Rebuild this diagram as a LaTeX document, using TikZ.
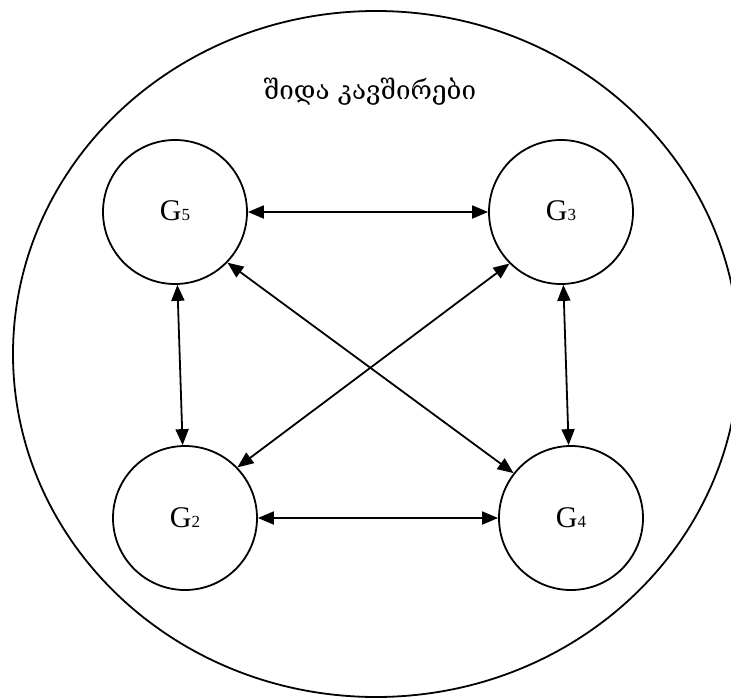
\documentclass[tikz,border=0pt]{standalone}
\usepackage{fontspec}
\setmainfont{Liberation Serif}
\newfontfamily\geofont[Script=Georgian]{DejaVu Serif}
\usetikzlibrary{arrows.meta}
\newcommand\glab[1]{G{\fontsize{17}{17}\selectfont #1}}
\tikzset{
  gnode/.style={circle, draw, line width=1.8pt, minimum size=144pt, inner sep=0pt,
    font=\fontsize{30}{30}\selectfont},
  link/.style={line width=1.8pt, {Triangle[length=16pt,width=13pt]}-{Triangle[length=16pt,width=13pt]}},
}
\begin{document}
\begin{tikzpicture}[x=1pt,y=-1pt]
\useasboundingbox (0,0) rectangle (731,698);
\clip (0,0) rectangle (731,698);
\draw[line width=1.8pt] (376,354) ellipse [x radius=363, y radius=343];
\node[anchor=base, font=\geofont\fontsize{26}{26}\selectfont] (title) at (370,100) {შიდა კავშირები};
\node[gnode] (g5) at (175,212) {\raisebox{2pt}{\glab{5}}};
\node[gnode] (g3) at (561,212) {\raisebox{2pt}{\glab{3}}};
\node[gnode] (g2) at (185,518) {\glab{2}};
\node[gnode] (g4) at (571,518) {\raisebox{-5pt}{\glab{4}}};
\draw[link] (g5) -- (g3);
\draw[link] (g2) -- (g4);
\draw[link] (g5) -- (g2);
\draw[link] (g3) -- (g4);
\draw[link] (g5.-44) -- (g4.142);
\draw[link] (g3.225) -- (g2.44.5);
\end{tikzpicture}
\end{document}
